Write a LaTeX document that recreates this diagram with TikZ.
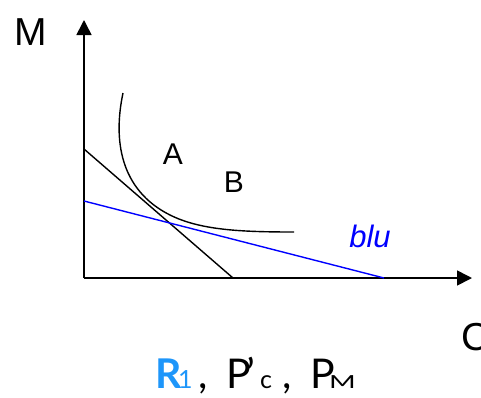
\documentclass[tikz,border=0pt]{standalone}
\usepackage{fontspec}
\setmainfont{Liberation Sans}
\newfontfamily\gillfont{Lato}
\usetikzlibrary{arrows.meta}
\definecolor{rblue}{RGB}{30,150,250}
\newcommand{\pc}[2]{\makebox[#1pt][l]{#2}}
\newcommand{\smallsub}{\fontsize{25}{28}\selectfont}
\begin{document}
\begin{tikzpicture}[x=1pt,y=-1pt,
  axis/.style={line width=1.6pt,-{Triangle[length=15pt,width=15pt]}},
  budget/.style={line width=1.4pt},
  lbl/.style={inner sep=0pt,font=\fontsize{30}{34}\selectfont}]
\useasboundingbox (0,0) rectangle (481,397);
\coordinate (O) at (84,278);
\coordinate (ytip) at (84,20);
\coordinate (xtip) at (472,278);
\draw[axis] (O) -- (ytip);
\draw[axis] (O) -- (xtip);
\coordinate (b1) at (84,149);
\coordinate (b2) at (233,278);
\draw[budget] (b1) -- (b2);
\coordinate (c1) at (84,201);
\coordinate (c2) at (384,278);
\draw[budget,blue] (c1) -- (c2);
\coordinate (u1) at (123,93);
\coordinate (u2) at (170,215);
\coordinate (u3) at (294,232);
\draw[budget] (u1) .. controls (113,140) and (120,190) .. (u2) .. controls (200,230) and (240,232) .. (u3);
\node[lbl,font=\fontsize{39}{42}\selectfont] (M) at (31,32) {M};
\node[lbl,font=\fontsize{39}{42}\selectfont] (C) at (476,337) {C};
\node[lbl] (A) at (173,154) {A};
\node[lbl] (B) at (234,182) {B};
\node[lbl,text=blue,font=\fontsize{31}{34}\selectfont\itshape] (blu) at (370,236) {blu};
\node[inner sep=0pt,anchor=base west,font=\gillfont\fontsize{41}{44}\selectfont] (T) at (155,388)
  {\textcolor{rblue}{\pc{23}{\textbf{R}}\pc{20}{\smallsub 1}}\pc{28}{,}\pc{20}{P}\pc{14}{’}\pc{22}{\smallsub c}\pc{28}{,}\pc{19}{P}{\fontsize{18}{20}\selectfont\scalebox{1.6}[1]{M}}};
\end{tikzpicture}
\end{document}
